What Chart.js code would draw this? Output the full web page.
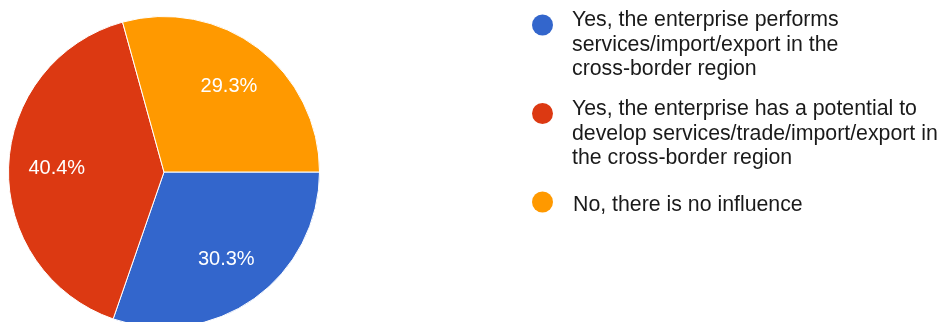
<!DOCTYPE html>
<html>
<head>
<meta charset="utf-8">
<script src="https://cdn.jsdelivr.net/npm/chart.js@4/dist/chart.umd.min.js"></script>
<style>
  html, body { margin: 0; padding: 0; background: #fff; overflow: hidden; }
  #wrap { position: relative; width: 938px; height: 344px; }
</style>
</head>
<body>
<div id="wrap"><canvas id="pieChart"></canvas></div>
<script>
// answers, one array entry per legend line
let answers = [
  ["Yes, the enterprise performs", "services/import/export in the", "cross-border region"],
  ["Yes, the enterprise has a potential to", "develop services/trade/import/export in", "the cross-border region"],
  ["No, there is no influence"],
];
let responses = [30, 40, 29];
let sliceColors = ["#3366cc", "#dc3912", "#ff9900"];

const FONT = "'Liberation Sans', Arial, sans-serif";

// percentage text in the middle of each slice
const sliceLabels = {
  id: "sliceLabels",
  afterDatasetsDraw(chart) {
    const ctx = chart.ctx;
    const meta = chart.getDatasetMeta(0);
    const data = chart.data.datasets[0].data;
    const total = data.reduce((a, b) => a + b, 0);
    ctx.save();
    ctx.font = "20px " + FONT;
    ctx.fillStyle = "#fff";
    ctx.textAlign = "center";
    ctx.textBaseline = "middle";
    meta.data.forEach((arc, i) => {
      const p = arc.getProps(["x", "y", "startAngle", "endAngle", "outerRadius"], true);
      const mid = (p.startAngle + p.endAngle) / 2;
      const r = p.outerRadius * 0.69;
      const pct = ((data[i] / total) * 100).toFixed(1) + "%";
      ctx.fillText(pct, p.x + Math.cos(mid) * r, p.y + Math.sin(mid) * r);
    });
    ctx.restore();
  },
};

// legend on the right with wrapped labels
const sideLegend = {
  id: "sideLegend",
  afterDraw(chart) {
    const ctx = chart.ctx;
    const dotY = [25, 113.5, 202];
    const firstBaseline = [26, 115, 211];
    const textX = [572, 572, 573];
    const lineHeight = 24.5;
    ctx.save();
    ctx.font = "21.3px " + FONT;
    ctx.textAlign = "left";
    ctx.textBaseline = "alphabetic";
    chart.data.labels.forEach((lines, i) => {
      ctx.fillStyle = chart.data.datasets[0].backgroundColor[i];
      ctx.beginPath();
      ctx.arc(542.5, dotY[i], 10.5, 0, Math.PI * 2);
      ctx.fill();
      ctx.fillStyle = "#1a1a1a";
      lines.forEach((line, j) => {
        ctx.fillText(line, textX[i], firstBaseline[i] + j * lineHeight);
      });
    });
    ctx.restore();
  },
};

let pieChartCfg = {
  type: "pie",
  data: {
    labels: answers,
    datasets: [
      {
        data: responses,
        backgroundColor: sliceColors,
        borderColor: "#fff",
        borderWidth: 1,
      },
    ],
  },
  options: {
    responsive: true,
    maintainAspectRatio: false,
    animation: false,
    rotation: 90,
    layout: {
      padding: { left: 8, top: 8, bottom: 8, right: 618 },
    },
    plugins: {
      legend: { display: false },
      tooltip: { enabled: false },
    },
  },
  plugins: [sliceLabels, sideLegend],
};

let pieChart = new Chart(document.getElementById("pieChart"), pieChartCfg);
</script>
</body>
</html>
